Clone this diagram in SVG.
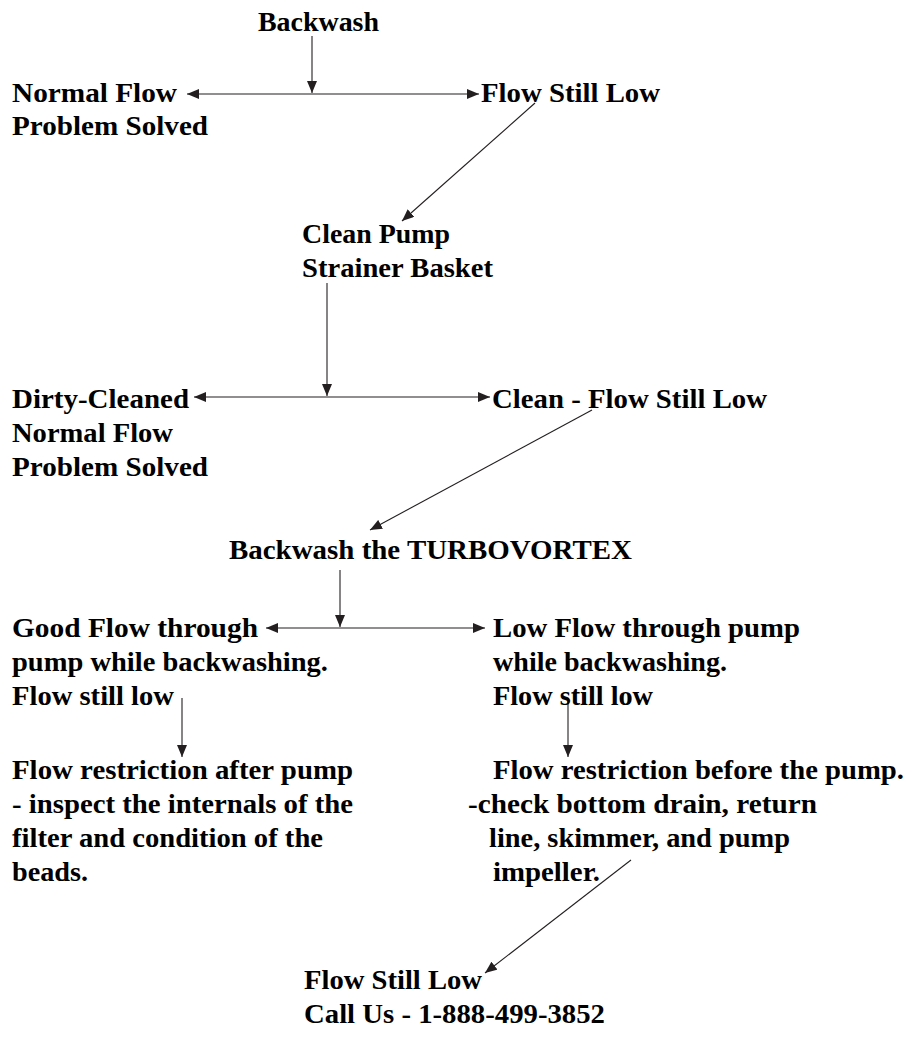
<svg xmlns="http://www.w3.org/2000/svg" width="908" height="1054" viewBox="0 0 908 1054">
<defs>
<style>
text{font-family:"Liberation Serif","Times New Roman",serif;font-weight:bold;font-size:28px;fill:#000}
.c line{stroke:#231f20;stroke-width:1.1;fill:none}
.a{marker-end:url(#ah)}
.d{marker-start:url(#ah);marker-end:url(#ah)}
</style>
<marker id="ah" viewBox="0 0 12 10" refX="12" refY="5" markerWidth="12" markerHeight="10" markerUnits="userSpaceOnUse" orient="auto-start-reverse">
<path d="M0,0 L12,5 L0,10 Z" fill="#231f20"/>
</marker>
</defs>
<rect width="908" height="1054" fill="#fff"/>
<g id="connectors" class="c">
<line class="a" x1="312" y1="36" x2="312" y2="93"/>
<line class="d" x1="187" y1="94" x2="479" y2="94"/>
<line class="a" x1="535" y1="103" x2="402" y2="221"/>
<line class="a" x1="327" y1="283" x2="327" y2="396"/>
<line class="d" x1="194" y1="397" x2="490" y2="397"/>
<line class="a" x1="592" y1="410" x2="370" y2="530"/>
<line class="a" x1="340" y1="570" x2="340" y2="627"/>
<line class="d" x1="266" y1="628" x2="485" y2="628"/>
<line class="a" x1="182" y1="698" x2="182" y2="757"/>
<line class="a" x1="568" y1="698" x2="568" y2="757"/>
<line class="a" x1="631" y1="860" x2="485" y2="973"/>
</g>
<g id="n-backwash"><text x="258" y="31" textLength="121" lengthAdjust="spacingAndGlyphs">Backwash</text></g>
<g id="n-normal-1">
<text x="12" y="102" textLength="165" lengthAdjust="spacingAndGlyphs">Normal Flow</text>
<text x="12" y="135" textLength="196" lengthAdjust="spacingAndGlyphs">Problem Solved</text>
</g>
<g id="n-still-low-1"><text x="481" y="102" textLength="179" lengthAdjust="spacingAndGlyphs">Flow Still Low</text></g>
<g id="n-clean-pump">
<text x="302" y="243" textLength="148" lengthAdjust="spacingAndGlyphs">Clean Pump</text>
<text x="302" y="277" textLength="191" lengthAdjust="spacingAndGlyphs">Strainer Basket</text>
</g>
<g id="n-dirty">
<text x="12" y="408" textLength="177" lengthAdjust="spacingAndGlyphs">Dirty-Cleaned</text>
<text x="12" y="442" textLength="161" lengthAdjust="spacingAndGlyphs">Normal Flow</text>
<text x="12" y="476" textLength="196" lengthAdjust="spacingAndGlyphs">Problem Solved</text>
</g>
<g id="n-clean-low"><text x="492" y="408" textLength="275" lengthAdjust="spacingAndGlyphs">Clean - Flow Still Low</text></g>
<g id="n-turbo"><text x="229" y="559" textLength="403" lengthAdjust="spacingAndGlyphs">Backwash the TURBOVORTEX</text></g>
<g id="n-good-flow">
<text x="12" y="637" textLength="246" lengthAdjust="spacingAndGlyphs">Good Flow through</text>
<text x="12" y="671" textLength="316" lengthAdjust="spacingAndGlyphs">pump while backwashing.</text>
<text x="12" y="705" textLength="162" lengthAdjust="spacingAndGlyphs">Flow still low</text>
</g>
<g id="n-low-flow">
<text x="493" y="637" textLength="307" lengthAdjust="spacingAndGlyphs">Low Flow through pump</text>
<text x="493" y="671" textLength="234" lengthAdjust="spacingAndGlyphs">while backwashing.</text>
<text x="493" y="705" textLength="160" lengthAdjust="spacingAndGlyphs">Flow still low</text>
</g>
<g id="n-after-pump">
<text x="12" y="779" textLength="341" lengthAdjust="spacingAndGlyphs">Flow restriction after pump</text>
<text x="12" y="813" textLength="341" lengthAdjust="spacingAndGlyphs">- inspect the internals of the</text>
<text x="12" y="847" textLength="311" lengthAdjust="spacingAndGlyphs">filter and condition of the</text>
<text x="12" y="881" textLength="76" lengthAdjust="spacingAndGlyphs">beads.</text>
</g>
<g id="n-before-pump">
<text x="493" y="779" textLength="411" lengthAdjust="spacingAndGlyphs">Flow restriction before the pump.</text>
<text x="468" y="813" textLength="349" lengthAdjust="spacingAndGlyphs">-check bottom drain, return</text>
<text x="489" y="847" textLength="301" lengthAdjust="spacingAndGlyphs">line, skimmer, and pump</text>
<text x="493" y="881" textLength="107" lengthAdjust="spacingAndGlyphs">impeller.</text>
</g>
<g id="n-call">
<text x="304" y="989" textLength="178" lengthAdjust="spacingAndGlyphs">Flow Still Low</text>
<text x="304" y="1023" textLength="301" lengthAdjust="spacingAndGlyphs">Call Us - 1-888-499-3852</text>
</g>
</svg>
